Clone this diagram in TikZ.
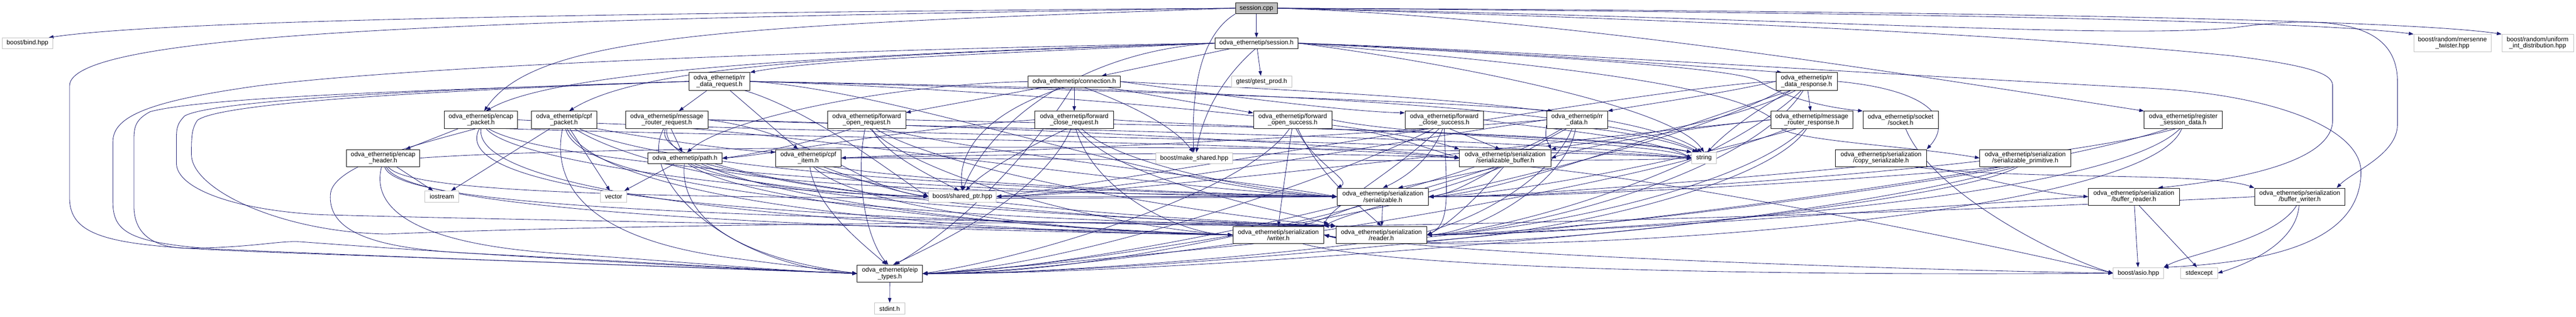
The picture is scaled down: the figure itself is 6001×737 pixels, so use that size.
\documentclass[tikz,border=0pt]{standalone}
\usepackage{fontspec}
\newfontfamily\nf{Liberation Sans}
\usetikzlibrary{arrows.meta,calc}
\pgfdeclarelayer{back}
\pgfdeclarelayer{edges}
\pgfsetlayers{back,edges,main}
\definecolor{edgec}{RGB}{25,25,112}
\definecolor{extb}{RGB}{191,191,191}
\definecolor{rootc}{RGB}{191,191,191}
\tikzset{
  bx/.style 2 args={minimum width=#1pt, minimum height=#2pt},
  int/.style={draw=black, fill=white, line width=0.5pt, inner sep=0.5pt, align=center, font=\nf\fontsize{7.4pt}{7.35pt}\selectfont},
  ext/.style={int, draw=extb},
  root/.style={int, fill=rootc},
  lk/.style={draw=edgec, line width=0.5pt, -{Triangle[length=5.5pt,width=4pt]}}
}
\begin{document}
\begin{tikzpicture}[x=0.5pt,y=-0.5pt]
\begin{pgfonlayer}{back}
\fill[white] (0,0) rectangle (6001,737);
\end{pgfonlayer}
\useasboundingbox (0,0) rectangle (6001,737);
% nodes
\node[root,bx={49}{13}] (cpp) at (2927,19) {session.cpp};
\node[ext,bx={59}{12.5}] (bind) at (64,100.5) {boost/bind.hpp};
\node[int,bx={97}{12.5}] (sess) at (2927,100.5) {odva\_ethernetip/session.h};
\node[ext,bx={90}{20}] (mt) at (5713,100) {boost/random/mersenne\\\_twister.hpp};
\node[ext,bx={83.5}{20}] (uid) at (5911.5,100) {boost/random/uniform\\\_int\_distribution.hpp};
\node[int,bx={71}{20.5}] (rrreq) at (1676,189.5) {odva\_ethernetip/rr\\\_data\_request.h};
\node[int,bx={107.5}{13}] (conn) at (2502.5,190) {odva\_ethernetip/connection.h};
\node[ext,bx={70}{13}] (gtest) at (2939,190) {gtest/gtest\_prod.h};
\node[int,bx={71.5}{20.5}] (rrresp) at (4208.5,189.5) {odva\_ethernetip/rr\\\_data\_response.h};
\node[int,bx={85.5}{20}] (encpkt) at (1120.5,279) {odva\_ethernetip/encap\\\_packet.h};
\node[int,bx={76}{20}] (cpfpkt) at (1314,279) {odva\_ethernetip/cpf\\\_packet.h};
\node[int,bx={95.5}{20}] (mrreq) at (1553.5,279) {odva\_ethernetip/message\\\_router\_request.h};
\node[int,bx={91}{20}] (foreq) at (2019,279) {odva\_ethernetip/forward\\\_open\_request.h};
\node[int,bx={91.5}{20}] (fcreq) at (2502.5,279) {odva\_ethernetip/forward\\\_close\_request.h};
\node[int,bx={91.5}{20}] (fosucc) at (3011.5,279) {odva\_ethernetip/forward\\\_open\_success.h};
\node[int,bx={91.5}{20}] (fcsucc) at (3364.5,279) {odva\_ethernetip/forward\\\_close\_success.h};
\node[int,bx={71}{20}] (rrdata) at (3674,279) {odva\_ethernetip/rr\\\_data.h};
\node[int,bx={95.5}{20}] (mrresp) at (4220.5,279) {odva\_ethernetip/message\\\_router\_response.h};
\node[int,bx={87.5}{20}] (sock) at (4427.5,279) {odva\_ethernetip/socket\\/socket.h};
\node[int,bx={91}{20}] (regsess) at (5086,279) {odva\_ethernetip/register\\\_session\_data.h};
\node[int,bx={85.5}{20}] (enchdr) at (892.5,368) {odva\_ethernetip/encap\\\_header.h};
\node[int,bx={86.5}{13}] (path) at (1595.5,368.5) {odva\_ethernetip/path.h};
\node[int,bx={76}{20}] (cpfitem) at (1883,368) {odva\_ethernetip/cpf\\\_item.h};
\node[ext,bx={89}{13}] (mkshr) at (2782,368.5) {boost/make\_shared.hpp};
\node[int,bx={106.5}{20}] (serbuf) at (3506.5,368) {odva\_ethernetip/serialization\\/serializable\_buffer.h};
\node[ext,bx={28.5}{13}] (string) at (3969.5,368) {string};
\node[int,bx={106}{20}] (copyser) at (4382,368) {odva\_ethernetip/serialization\\/copy\_serializable.h};
\node[int,bx={106}{20}] (serprim) at (4718,368) {odva\_ethernetip/serialization\\/serializable\_primitive.h};
\node[ext,bx={39.5}{13}] (iostream) at (1029.5,457.5) {iostream};
\node[ext,bx={30.5}{13}] (vector) at (1429.5,457.5) {vector};
\node[ext,bx={79}{13}] (shptr) at (2242,457.5) {boost/shared\_ptr.hpp};
\node[int,bx={106.5}{20}] (ser) at (3221.5,458) {odva\_ethernetip/serialization\\/serializable.h};
\node[int,bx={106}{20}] (bufrd) at (4971,458) {odva\_ethernetip/serialization\\/buffer\_reader.h};
\node[int,bx={105.5}{20}] (bufwr) at (5357.5,458) {odva\_ethernetip/serialization\\/buffer\_writer.h};
\node[int,bx={106}{20}] (writer) at (2978,547) {odva\_ethernetip/serialization\\/writer.h};
\node[int,bx={106}{20}] (reader) at (3218,547) {odva\_ethernetip/serialization\\/reader.h};
\node[int,bx={76}{20}] (eip) at (2073,637) {odva\_ethernetip/eip\\\_types.h};
\node[ext,bx={58.5}{13}] (asio) at (4981.5,636) {boost/asio.hpp};
\node[ext,bx={43}{13}] (stdexc) at (5123,636) {stdexcept};
\node[ext,bx={35.5}{13}] (stdint) at (2072.5,718.5) {stdint.h};

\begin{pgfonlayer}{edges}
% session.cpp
\draw[lk] (cpp.west) .. controls (1500,30) and (400,45) .. ($(bind.north east)+(-10,0)$);
\draw[lk] (cpp.west) .. controls (1200,45) and (162,70) .. (162,200) -- (162,460) .. controls (162,570) and (300,575) .. (700,590) .. controls (1400,615) and (1800,630) .. (eip.west);
\draw[lk] (cpp.west) .. controls (1700,60) and (1250,80) .. (encpkt.70);
\draw[lk] (cpp) -- (sess);
\draw[lk] (cpp.south west) .. controls (2800,80) and (2775,200) .. (mkshr.95);
\draw[lk] (cpp.east) .. controls (4500,30) and (5400,50) .. (mt.north west);
\draw[lk] (cpp.east) .. controls (4500,25) and (5600,45) .. (uid.north west);
\draw[lk] (cpp.east) .. controls (3600,40) and (4300,150) .. (regsess.north west);
\draw[lk] (cpp.east) .. controls (4300,45) and (4900,90) .. (5200,65) .. controls (5450,30) and (5585,60) .. (5585,190) -- (5585,290) .. controls (5585,360) and (5480,400) .. ($(bufwr.north east)+(-20,0)$);
\draw[lk] (cpp.east) .. controls (4300,55) and (4900,100) .. (5200,130) .. controls (5400,155) and (5434,175) .. (5434,200) -- (5434,280) .. controls (5434,380) and (5200,420) .. (bufrd.20);
% session.h
\draw[lk] (sess) -- (conn);
\draw[lk] (sess) -- (gtest);
\draw[lk] (sess.-100) .. controls (2860,170) and (2805,250) .. (mkshr.70);
\draw[lk] (sess.west) .. controls (2000,115) and (1000,150) .. (600,200) .. controls (350,235) and (263,270) .. (263,330) -- (263,470) .. controls (263,540) and (300,565) .. (500,580) .. controls (1200,610) and (1800,628) .. (eip.west);
\draw[lk] (sess.west) .. controls (2000,125) and (1300,160) .. (encpkt.60);
\draw[lk] (sess.west) .. controls (2000,128) and (1500,150) .. (cpfpkt.60);
\draw[lk] (sess.west) .. controls (2200,130) and (1900,140) .. (rrreq.north east);
\draw[lk] (sess.west) .. controls (2500,120) and (2300,300) .. (shptr.north);
\draw[lk] (sess.east) .. controls (3500,120) and (3900,150) .. (rrresp.160);
\draw[lk] (sess.east) .. controls (3500,125) and (4050,155) .. (4100,190) .. controls (4150,225) and (4250,250) .. (sock.north west);
\draw[lk] (sess.east) .. controls (3400,150) and (3900,250) .. (string.north);
\draw[lk] (sess.east) .. controls (3500,115) and (4500,180) .. (5000,205) .. controls (5300,220) and (5500,300) .. (5500,400) .. controls (5500,560) and (5300,610) .. (asio.north east);
\draw[lk] (sess.east) .. controls (3600,150) and (4100,200) .. (4150,300) .. controls (4200,330) and (4450,340) .. (serprim.west);
% connection.h
\draw[lk] (conn) -- (foreq);
\draw[lk] (conn) -- (fcreq);
\draw[lk] (conn) -- (fosucc);
\draw[lk] (conn.west) .. controls (2100,195) and (1700,270) .. (path.70);
\draw[lk] (conn.250) .. controls (2440,300) and (2280,500) .. (eip.60);
\draw[lk] (conn.east) .. controls (2900,230) and (3150,260) .. (fcsucc.170);
\draw[lk] (conn.210) .. controls (2300,260) and (2230,350) .. (shptr.north);
\draw[lk] (conn.-30) .. controls (2650,250) and (2740,300) .. (mkshr.100);
\draw[lk] (conn.east) .. controls (3100,215) and (3800,240) .. (string.110);
% rr_data_request.h
\draw[lk] (rrreq) -- (mrreq);
\draw[lk] (rrreq) -- (cpfitem);
\draw[lk] (rrreq.west) .. controls (1200,205) and (500,220) .. (350,260) .. controls (312,280) and (312,300) .. (312,330) -- (312,480) .. controls (312,560) and (380,580) .. (450,578) .. controls (600,575) and (650,560) .. (700,563) .. controls (1200,600) and (1800,630) .. (eip.west);
\draw[lk] (rrreq.west) .. controls (1100,205) and (500,230) .. (430,270) .. controls (411,290) and (411,300) .. (411,330) -- (411,380) .. controls (411,440) and (550,490) .. (750,500) .. controls (1500,520) and (2500,530) .. (writer.west);
\draw[lk] (rrreq.west) .. controls (1100,208) and (520,235) .. (460,280) .. controls (446,300) and (446,320) .. (446,360) .. controls (446,440) and (650,540) .. (900,545) .. controls (1500,520) and (2800,510) .. (reader.north west);
\draw[lk] (rrreq.east) .. controls (2200,200) and (3300,230) .. (rrdata.160);
\draw[lk] (rrreq.-20) .. controls (1900,260) and (2100,420) .. (shptr.west);
\draw[lk] (rrreq.east) .. controls (2100,210) and (2700,440) .. (ser.west);
\draw[lk] (rrreq.east) .. controls (2300,200) and (3700,220) .. (string.130);
\draw[lk] (rrreq.east) .. controls (2300,205) and (3200,280) .. (serbuf.north west);
% rr_data_response.h
\draw[lk] (rrresp) -- (mrresp);
\draw[lk] (rrresp.west) .. controls (4000,220) and (3850,240) .. (rrdata.north east);
\draw[lk] (rrresp.west) .. controls (3900,195) and (2500,440) .. (shptr.east);
\draw[lk] (rrresp.-160) .. controls (3800,400) and (2600,620) .. (eip.east);
\draw[lk] (rrresp.-150) .. controls (3900,300) and (3500,450) .. (ser.east);
\draw[lk] (rrresp.-120) .. controls (4000,400) and (3500,540) .. (reader.east);
\draw[lk] (rrresp.-110) .. controls (4050,450) and (3300,600) .. (writer.east);
\draw[lk] (rrresp.east) .. controls (4500,210) and (4550,280) .. (copyser.north east);
\draw[lk] (rrresp.-150) .. controls (4050,280) and (4000,330) .. (string.60);
\draw[lk] (rrresp.-140) .. controls (4000,300) and (3700,330) .. (serbuf.north east);
% encap_packet.h
\draw[lk] (encpkt) -- (enchdr);
\draw[lk] (encpkt.-120) .. controls (1000,330) and (780,380) .. (770,450) .. controls (760,550) and (900,580) .. (1100,590) .. controls (1500,610) and (1800,630) .. (eip.west);
\draw[lk] (encpkt.-60) .. controls (1200,380) and (1800,450) .. (shptr.west);
\draw[lk] (encpkt.-50) .. controls (1300,400) and (2500,460) .. (ser.west);
\draw[lk] (encpkt.-100) .. controls (1050,420) and (1500,520) .. (reader.north west);
\draw[lk] (encpkt.-90) .. controls (1100,440) and (1800,530) .. (writer.west);
\draw[lk] (encpkt.east) .. controls (1800,310) and (3500,330) .. (string.west);
\draw[lk] (encpkt.-20) .. controls (1800,320) and (3000,330) .. (serbuf.west);
% encap_header.h
\draw[lk] (enchdr) -- (iostream);
\draw[lk] (enchdr.-100) .. controls (860,500) and (1000,570) .. (1300,590) .. controls (1600,610) and (1800,630) .. (eip.west);
\draw[lk] (enchdr.-60) .. controls (950,450) and (1500,470) .. (ser.west);
\draw[lk] (enchdr.-80) .. controls (920,470) and (1500,510) .. (reader.north west);
\draw[lk] (enchdr.-70) .. controls (940,480) and (1700,530) .. (writer.west);
\draw[lk] (enchdr.east) .. controls (1500,330) and (3500,340) .. (string.west);
% cpf_packet.h
\draw[lk] (cpfpkt) -- (iostream);
\draw[lk] (cpfpkt) -- (vector);
\draw[lk] (cpfpkt.-15) .. controls (1500,320) and (1700,350) .. (cpfitem.170);
\draw[lk] (cpfpkt.-100) .. controls (1280,450) and (1400,560) .. (1700,600) .. controls (1850,620) and (1950,630) .. (eip.west);
\draw[lk] (cpfpkt.-40) .. controls (1500,400) and (1900,455) .. (shptr.west);
\draw[lk] (cpfpkt.-30) .. controls (1600,420) and (2700,450) .. (ser.west);
\draw[lk] (cpfpkt.-80) .. controls (1350,450) and (2200,515) .. (reader.north west);
\draw[lk] (cpfpkt.-70) .. controls (1400,470) and (2200,540) .. (writer.west);
% message_router_request.h
\draw[lk] (mrreq) -- (path);
\draw[lk] (mrreq.-110) .. controls (1480,420) and (1700,620) .. (eip.west);
\draw[lk] (mrreq.east) .. controls (1900,310) and (2000,440) .. (shptr.west);
\draw[lk] (mrreq.-20) .. controls (2000,330) and (2700,440) .. (ser.west);
\draw[lk] (mrreq.east) .. controls (2200,290) and (3100,330) .. (serbuf.west);
\draw[lk] (mrreq.-100) .. controls (1500,420) and (2400,510) .. (reader.north west);
\draw[lk] (mrreq.-90) .. controls (1530,440) and (2300,535) .. (writer.west);
\draw[lk] (mrreq.east) .. controls (2300,300) and (3600,320) .. (string.west);
% path.h
\draw[lk] (path) -- (vector);
\draw[lk] (path.-95) .. controls (1585,470) and (1650,590) .. (eip.west);
\draw[lk] (path.-30) .. controls (1800,450) and (2700,450) .. (ser.west);
\draw[lk] (path.-60) .. controls (1750,480) and (2400,530) .. (writer.west);
\draw[lk] (path.-45) .. controls (1800,470) and (2600,510) .. (reader.north west);
\draw[lk] (path.-15) .. controls (1800,420) and (2000,455) .. (shptr.west);
% cpf_item.h
\draw[lk] (cpfitem.-80) .. controls (1900,480) and (2000,560) .. (eip.110);
\draw[lk] (cpfitem.-30) .. controls (2000,420) and (2100,450) .. (shptr.west);
\draw[lk] (cpfitem.-20) .. controls (2200,430) and (2800,450) .. (ser.west);
\draw[lk] (cpfitem.east) .. controls (2300,360) and (3000,350) .. (serbuf.west);
\draw[lk] (cpfitem.-50) .. controls (2100,470) and (2700,510) .. (reader.north west);
\draw[lk] (cpfitem.-60) .. controls (2000,490) and (2500,540) .. (writer.west);
\draw[lk] (cpfitem.east) .. controls (2500,370) and (3700,380) .. (string.west);
% forward_open_request.h
\draw[lk] (foreq.-150) .. controls (1900,330) and (1750,360) .. (path.east);
\draw[lk] (foreq.-100) .. controls (1990,420) and (2020,560) .. (eip.100);
\draw[lk] (foreq.-60) .. controls (2060,360) and (2170,410) .. (shptr.120);
\draw[lk] (foreq.-30) .. controls (2300,360) and (2900,420) .. (ser.west);
\draw[lk] (foreq.-45) .. controls (2200,400) and (2800,500) .. (reader.north west);
\draw[lk] (foreq.-70) .. controls (2150,420) and (2600,530) .. (writer.west);
\draw[lk] (foreq.east) .. controls (2500,290) and (3700,300) .. (string.north west);
% forward_close_request.h
\draw[lk] (fcreq.west) .. controls (2100,300) and (1800,360) .. (path.east);
\draw[lk] (fcreq.-110) .. controls (2430,450) and (2200,560) .. (eip.70);
\draw[lk] (fcreq.-130) .. controls (2380,350) and (2290,400) .. (shptr.60);
\draw[lk] (fcreq.-50) .. controls (2600,380) and (2900,440) .. (ser.west);
\draw[lk] (fcreq.-70) .. controls (2600,420) and (2950,480) .. (reader.north west);
\draw[lk] (fcreq.-80) .. controls (2550,450) and (2750,545) .. (writer.west);
\draw[lk] (fcreq.east) .. controls (2900,300) and (3700,310) .. (string.north west);
% forward_open_success.h
\draw[lk] (fosucc.-15) .. controls (3200,305) .. (serbuf.west);
\draw[lk] (fosucc.-95) .. controls (2995,400) and (2985,470) .. (writer.north);
\draw[lk] (fosucc.-60) .. controls (3080,420) and (3170,480) .. (reader.north);
\draw[lk] (fosucc.-70) .. controls (3060,380) and (3150,420) .. (ser.north west);
\draw[lk] (fosucc.-110) .. controls (2900,450) and (2400,600) .. (eip.east);
\draw[lk] (fosucc.east) .. controls (3300,320) and (3850,330) .. (string.west);
% forward_close_success.h
\draw[lk] (fcsucc.-60) -- (serbuf.120);
\draw[lk] (fcsucc.-100) .. controls (3330,380) and (3260,420) .. (ser.north);
\draw[lk] (fcsucc.-90) .. controls (3370,450) and (3380,520) .. (reader.east);
\draw[lk] (fcsucc.-120) .. controls (3250,400) and (3100,480) .. (writer.north east);
\draw[lk] (fcsucc.-140) .. controls (3100,420) and (2500,620) .. (eip.east);
\draw[lk] (fcsucc.east) .. controls (3600,300) and (3850,320) .. (string.west);
% rr_data.h
\draw[lk] (rrdata.-30) .. controls (3800,310) and (3900,330) .. (string.140);
\draw[lk] (rrdata.west) .. controls (3300,320) and (2600,450) .. (shptr.east);
\draw[lk] (rrdata.-150) .. controls (3400,450) and (2500,630) .. (eip.east);
\draw[lk] (rrdata.-140) .. controls (3500,380) and (3400,450) .. (ser.east);
\draw[lk] (rrdata.-100) .. controls (3650,420) and (3450,540) .. (reader.east);
\draw[lk] (rrdata.-120) .. controls (3600,450) and (3300,600) .. (writer.east);
\draw[lk] (rrdata.-170) .. controls (3600,320) .. (serbuf.north east);
\draw[lk] (rrdata.west) .. controls (3000,330) and (2100,360) .. (cpfitem.east);
% message_router_response.h
\draw[lk] (mrresp.-160) .. controls (3800,450) and (2500,640) .. (eip.east);
\draw[lk] (mrresp.west) .. controls (3600,330) and (2600,455) .. (shptr.east);
\draw[lk] (mrresp.-150) .. controls (3900,380) and (3500,455) .. (ser.east);
\draw[lk] (mrresp.west) .. controls (3900,300) and (3700,340) .. (serbuf.east);
\draw[lk] (mrresp.-130) .. controls (4050,450) and (3500,545) .. (reader.east);
\draw[lk] (mrresp.-120) .. controls (4100,470) and (3300,610) .. (writer.east);
% socket.h
\draw[lk] (sock.-60) .. controls (4500,450) and (4800,600) .. (asio.west);
% register_session_data.h
\draw[lk] (regsess.-150) .. controls (4600,450) and (2800,640) .. (eip.east);
\draw[lk] (regsess.-130) .. controls (4700,400) and (3600,460) .. (ser.east);
\draw[lk] (regsess.-110) .. controls (4900,480) and (3600,545) .. (reader.east);
\draw[lk] (regsess.-100) .. controls (5000,520) and (3400,610) .. (writer.east);
% serializable_buffer.h
\draw[lk] (serbuf.-120) -- (ser.30);
\draw[lk] (serbuf.-100) .. controls (3450,450) and (3380,520) .. (reader.east);
\draw[lk] (serbuf.-110) .. controls (3350,450) and (3150,490) .. (writer.north east);
\draw[lk] (serbuf.-20) .. controls (3900,420) and (4600,560) .. (asio.west);
\draw[lk] (serbuf.-140) .. controls (3200,480) and (2600,640) .. (eip.east);
% copy_serializable.h
\draw[lk] (copyser.-160) .. controls (4000,420) and (3500,460) .. (ser.east);
\draw[lk] (copyser.-10) .. controls (4600,410) and (4750,450) .. (bufrd.west);
\draw[lk] (copyser.-15) .. controls (4700,420) and (5150,400) .. (bufwr.north west);
% serializable_primitive.h
\draw[lk] (serprim.-160) .. controls (4200,430) and (3600,460) .. (ser.east);
\draw[lk] (serprim.-150) .. controls (4300,460) and (3600,545) .. (reader.east);
\draw[lk] (serprim.-140) .. controls (4400,480) and (3400,610) .. (writer.east);
\draw[lk] (serprim.-130) .. controls (4500,500) and (2800,640) .. (eip.east);
% serializable.h
\draw[lk] (ser) -- (reader);
\draw[lk] (ser) -- (writer);
\draw[lk] (ser.west) -- (shptr.east);
% buffer_reader.h
\draw[lk] (bufrd.west) .. controls (4500,480) and (3700,545) .. (reader.east);
\draw[lk] (bufrd) -- (asio);
\draw[lk] (bufrd.-60) -- (stdexc.110);
% buffer_writer.h
\draw[lk] (bufwr.west) .. controls (4500,495) and (3600,520) .. (writer.north east);
\draw[lk] (bufwr.-110) .. controls (5300,560) and (5100,590) .. (asio.north east);
\draw[lk] (bufwr.-95) .. controls (5350,560) and (5250,610) .. (stdexc.east);
% reader.h / writer.h
\draw[lk] (reader.-160) .. controls (2900,600) and (2400,640) .. (eip.east);
\draw[lk] (reader.-20) .. controls (3600,600) and (4500,630) .. (asio.west);
\draw[lk] (writer.-160) .. controls (2700,590) and (2300,630) .. (eip.east);
\draw[lk] (writer.-20) .. controls (3300,640) and (4500,640) .. (asio.west);
% eip_types.h
\draw[lk] (eip) -- (stdint);
\end{pgfonlayer}
\end{tikzpicture}
\end{document}
